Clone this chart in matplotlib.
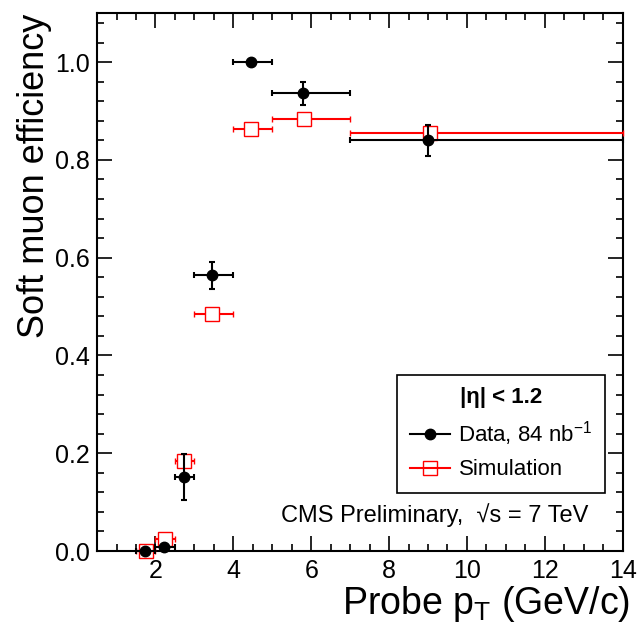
import matplotlib
matplotlib.use('Agg')
import matplotlib.pyplot as plt
from matplotlib.lines import Line2D
from matplotlib.ticker import MultipleLocator

plt.rcParams['font.family'] = ['Liberation Sans', 'DejaVu Sans']
plt.rcParams['mathtext.fontset'] = 'custom'
plt.rcParams['mathtext.rm'] = 'Liberation Sans'
plt.rcParams['mathtext.it'] = 'Liberation Sans:italic'
plt.rcParams['mathtext.bf'] = 'Liberation Sans:bold'

# bins in probe pT (GeV/c)
bin_lo = [1.5, 2.0, 2.5, 3.0, 4.0, 5.0, 7.0]
bin_hi = [2.0, 2.5, 3.0, 4.0, 5.0, 7.0, 14.0]

# data points
data_x = [1.74, 2.23, 2.73, 3.44, 4.46, 5.80, 9.01]
data_y = [0.0, 0.008, 0.151, 0.564, 1.0, 0.936, 0.840]
data_yerr = [0.0, 0.005, 0.047, 0.028, 0.0, 0.023, 0.032]

# simulation points
sim_x = [1.75, 2.25, 2.74, 3.46, 4.46, 5.81, 9.05]
sim_y = [0.0, 0.024, 0.184, 0.485, 0.864, 0.883, 0.855]
sim_yerr = [0.0, 0.004, 0.005, 0.004, 0.004, 0.004, 0.004]


def xerrs(xs):
    lo = [x - l for x, l in zip(xs, bin_lo)]
    hi = [h - x for x, h in zip(xs, bin_hi)]
    return [lo, hi]


fig = plt.figure(figsize=(6.43, 6.28), dpi=100)
ax = fig.add_axes([0.151, 0.1226, 0.8174, 0.8564])

ax.errorbar(sim_x, sim_y, xerr=xerrs(sim_x), yerr=sim_yerr, fmt='s', color='red',
            mfc='white', mec='red', ms=9.5, mew=1.0, elinewidth=1.5,
            capsize=2, capthick=1.5, clip_on=False, zorder=3)
ax.errorbar(data_x, data_y, xerr=xerrs(data_x), yerr=data_yerr, fmt='o', color='black',
            ms=7.5, elinewidth=1.5, capsize=2, capthick=1.5, clip_on=False, zorder=4)

ax.set_xlim(0.5, 14)
ax.set_ylim(0, 1.1)

ax.xaxis.set_major_locator(MultipleLocator(2))
ax.xaxis.set_minor_locator(MultipleLocator(0.5))
ax.yaxis.set_major_locator(MultipleLocator(0.2))
ax.yaxis.set_minor_locator(MultipleLocator(0.04))
ax.yaxis.set_major_formatter(matplotlib.ticker.FormatStrFormatter('%.1f'))

ax.tick_params(which='both', direction='in', top=True, right=True, width=1.2, labelsize=18)
ax.tick_params(which='major', length=11)
ax.tick_params(which='minor', length=5)
ax.tick_params(axis='x', pad=6)
ax.tick_params(axis='y', pad=5)
for s in ax.spines.values():
    s.set_linewidth(1.5)

ax.set_xlabel(r'Probe p$_{\mathrm{T}}$ (GeV/c)', fontsize=27, labelpad=0)
ax.xaxis.set_label_coords(1.015, -0.062)
ax.xaxis.label.set_ha('right')
ax.xaxis.label.set_va('top')
ax.set_ylabel('Soft muon efficiency', fontsize=26, loc='top', labelpad=2)

handles = [
    Line2D([], [], color='black', marker='o', ms=7.5, lw=1.5),
    Line2D([], [], color='red', marker='s', ms=9.5, mfc='none', mew=1.0, lw=1.5),
]
labels = [r'Data, 84 nb$^{\mathregular{-1}}$', 'Simulation']
leg = ax.legend(handles, labels, title='|η| < 1.2', loc='upper right',
                bbox_to_anchor=(0.966, 0.327), borderaxespad=0,
                fontsize=16, title_fontproperties={'weight': 'bold', 'size': 16},
                frameon=True, fancybox=False, edgecolor='black', framealpha=1,
                handlelength=1.8, handletextpad=0.4, labelspacing=0.5, borderpad=0.55)
leg.get_frame().set_linewidth(1.2)

ax.text(0.935, 0.066, 'CMS Preliminary,  √s = 7 TeV', transform=ax.transAxes,
        ha='right', va='center', fontsize=17)

fig.savefig('out.png', dpi=100)
